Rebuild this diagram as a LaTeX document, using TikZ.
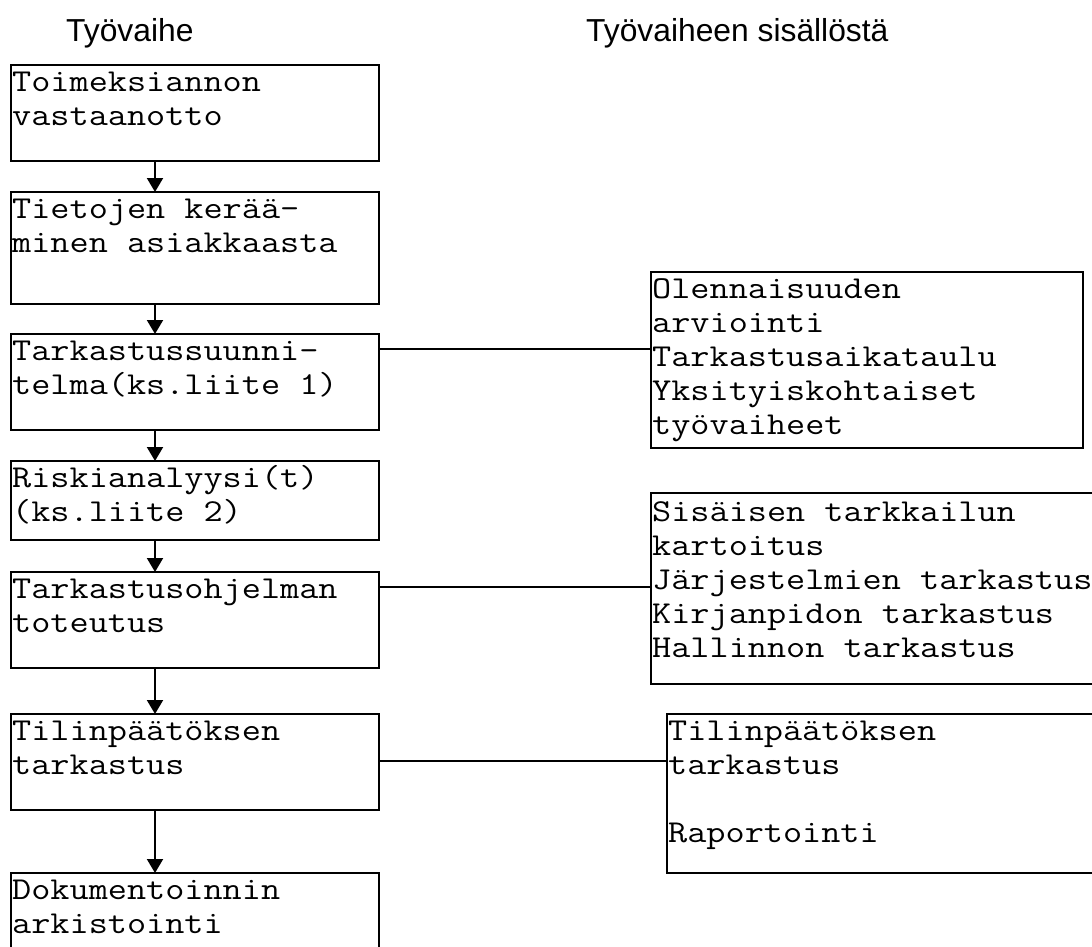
\documentclass[tikz,border=0pt]{standalone}
\usepackage{fontspec}
\newfontfamily\monof[FakeStretch=1.165]{Latin Modern Mono}
\newfontfamily\sansf{Liberation Sans}
\usetikzlibrary{arrows.meta}
\newcommand\fl{\rule{0pt}{26pt}}
\newcommand\tightls{\lineskiplimit-100pt\relax}
\begin{document}
\begin{tikzpicture}[x=1pt,y=-1pt,
  box/.style={draw, line width=2pt, anchor=north west, inner sep=0pt, outer sep=0pt},
  txt/.style={anchor=north west, inner sep=0pt, align=left,
    font=\monof\fontsize{31.9}{34}\selectfont\tightls},
  head/.style={anchor=base west, inner sep=0pt, font=\sansf\fontsize{31.8}{36}\selectfont},
  arr/.style={line width=2pt, -{Triangle[width=16pt,length=14pt]}},
  link/.style={line width=1.5pt}]
\useasboundingbox (0,0) rectangle (1092,947);
\clip (0,0) rectangle (1092,947);
\fill[white] (0,0) rectangle (1092,947);

\node[head] (h1) at (66,42) {Työvaihe};
\node[head] (h2) at (586,42) {Työvaiheen sisällöstä};

\node[box, minimum width=368pt, minimum height=96pt]  (b1) at (11,65)  {};
\node[box, minimum width=368pt, minimum height=112pt] (b2) at (11,192) {};
\node[box, minimum width=368pt, minimum height=96pt]  (b3) at (11,334) {};
\node[box, minimum width=368pt, minimum height=79pt]  (b4) at (11,461) {};
\node[box, minimum width=368pt, minimum height=96pt]  (b5) at (11,572) {};
\node[box, minimum width=368pt, minimum height=96pt]  (b6) at (11,714) {};
\node[box, minimum width=368pt, minimum height=96pt]  (b7) at (11,873) {};

\node[box, minimum width=432pt, minimum height=176pt] (r1) at (651,272) {};
\node[box, minimum width=460pt, minimum height=191pt] (r2) at (651,493) {};
\node[box, minimum width=445pt, minimum height=159pt] (r3) at (667,714) {};

\node[txt] (t1) at ([xshift=1pt]b1.north west) {\fl Toimeksiannon\\vastaanotto};
\node[txt] (t2) at ([xshift=1pt]b2.north west) {\fl Tietojen kerää-\\minen asiakkaasta};
\node[txt] (t3) at ([xshift=1pt]b3.north west) {\fl Tarkastussuunni-\\telma(ks.liite 1)};
\node[txt] (t4) at ([xshift=1pt]b4.north west) {\fl Riskianalyysi(t)\\(ks.liite 2)};
\node[txt] (t5) at ([xshift=1pt]b5.north west) {\fl Tarkastusohjelman\\toteutus};
\node[txt] (t6) at ([xshift=1pt]b6.north west) {\fl Tilinpäätöksen\\tarkastus};
\node[txt] (t7) at ([xshift=1pt]b7.north west) {\fl Dokumentoinnin\\arkistointi};

\node[txt] (s1) at ([xshift=1pt]r1.north west) {\fl Olennaisuuden\\arviointi\\Tarkastusaikataulu\\Yksityiskohtaiset\\työvaiheet};
\node[txt] (s2) at ([xshift=1pt,yshift=-2pt]r2.north west) {\fl Sisäisen tarkkailun\\kartoitus\\Järjestelmien tarkastus\\Kirjanpidon tarkastus\\Hallinnon tarkastus};
\node[txt] (s3) at ([xshift=1pt]r3.north west) {\fl Tilinpäätöksen\\tarkastus\\~\\Raportointi};

\draw[arr] ([xshift=-40pt]b1.south) -- ([xshift=-40pt]b2.north);
\draw[arr] ([xshift=-40pt]b2.south) -- ([xshift=-40pt]b3.north);
\draw[arr] ([xshift=-40pt]b3.south) -- ([xshift=-40pt]b4.north);
\draw[arr] ([xshift=-40pt]b4.south) -- ([xshift=-40pt]b5.north);
\draw[arr] ([xshift=-40pt]b5.south) -- ([xshift=-40pt]b6.north);
\draw[arr] ([xshift=-40pt]b6.south) -- ([xshift=-40pt]b7.north);

\coordinate (j3) at ([yshift=-15pt]b3.north east);
\coordinate (j5) at ([yshift=-15pt]b5.north east);
\coordinate (j6) at ([yshift=-47pt]b6.north east);
\draw[link] (j3) -- (j3 -| r1.west);
\draw[link] (j5) -- (j5 -| r2.west);
\draw[link] (j6) -- (j6 -| r3.west);
\end{tikzpicture}
\end{document}
